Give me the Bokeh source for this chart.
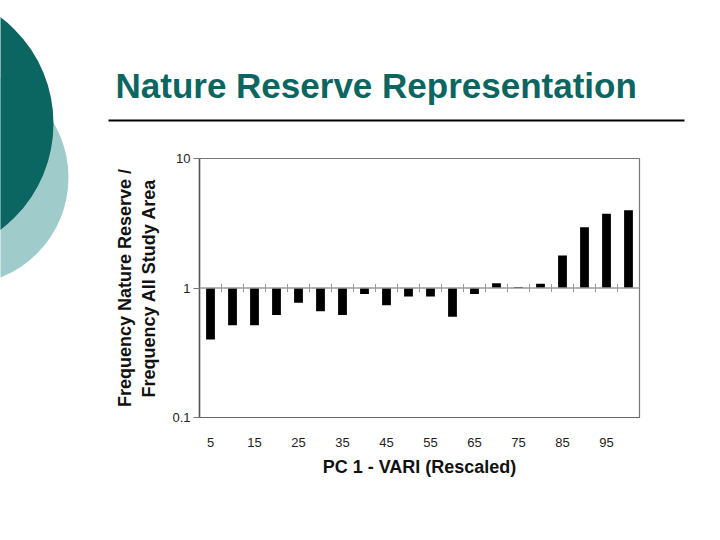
from bokeh.plotting import figure
from bokeh.layouts import row, column
from bokeh.models import Range1d, FixedTicker, Span
from bokeh.core.properties import value
from bokeh.embed import file_html
from bokeh.resources import INLINE

# ---- data ----
pc_values = [5, 10, 15, 20, 25, 30, 35, 40, 45, 50, 55, 60, 65, 70, 75, 80, 85, 90, 95, 100]
ratios = [0.40, 0.515, 0.515, 0.62, 0.77, 0.66, 0.62, 0.90, 0.735, 0.86, 0.86, 0.60,
          0.90, 1.09, 1.02, 1.08, 1.78, 2.94, 3.75, 3.98]
x_tick_values = [5, 15, 25, 35, 45, 55, 65, 75, 85, 95]
y_tick_values = [0.1, 1, 10]
y_tick_labels = {0.1: "0.1", 1: "1", 10: "10"}
title_text = "Nature Reserve Representation"
x_title = "PC 1 - VARI (Rescaled)"
y_title = "Frequency Nature Reserve /\nFrequency All Study Area"

TEAL_DARK = "#0b6662"
TEAL_LIGHT = "#9fcccb"
FONT = "Liberation Sans"

TOP_H = 135
LEFT_W = 100


def deco_figure(w, h, x0, y0):
    f = figure(width=w, height=h, x_range=Range1d(x0, x0 + w), y_range=Range1d(y0 + h, y0),
               output_backend="svg", toolbar_location=None, min_border=0)
    f.frame_align = False
    f.axis.visible = False
    f.grid.visible = False
    f.outline_line_color = None
    return f


# ---- left strip: the two circles ----
left = deco_figure(LEFT_W, 540, 0, 0)
left.circle(x=[-39.5], y=[177], radius=107.5, fill_color=TEAL_LIGHT, line_color=None)
left.circle(x=[-80], y=[123], radius=133, fill_color=TEAL_DARK, line_color=None)

# ---- top strip: title and rule ----
top = deco_figure(720 - LEFT_W, TOP_H, LEFT_W, 0)
top.text(x=[115], y=[85], text=[title_text], text_font=value(FONT), text_font_style="bold",
         text_font_size="35px", text_color=TEAL_DARK, text_baseline="alphabetic", text_align="left")
top.segment(x0=[108], y0=[120], x1=[684], y1=[120], line_color="black", line_width=2)

# ---- chart ----
p = figure(width=720 - LEFT_W, height=540 - TOP_H, x_range=Range1d(2.5, 102.5), y_range=Range1d(0.1, 10),
           y_axis_type="log", output_backend="svg", toolbar_location=None,
           min_border_left=99, min_border_right=81, min_border_top=23, min_border_bottom=123)
p.frame_align = False
p.grid.visible = False
p.outline_line_color = "#777777"
p.outline_line_width = 1.2

p.vbar(x=pc_values, width=2.0, bottom=1, top=ratios, fill_color="black", line_color=None)

p.add_layout(Span(location=1, dimension="width", line_color="#9a9a9a", line_width=1.5))
step = pc_values[1] - pc_values[0]
bounds = [v + step / 2 for v in pc_values[:-1]]
p.segment(x0=bounds, y0=[0.93] * len(bounds), x1=bounds, y1=[1.075] * len(bounds),
          line_color="#9a9a9a", line_width=1)

xa = p.xaxis[0]
xa.ticker = FixedTicker(ticks=x_tick_values)
xa.major_tick_line_color = None
xa.minor_tick_line_color = None
xa.axis_line_color = "#666666"
xa.major_label_text_font = FONT
xa.major_label_text_font_size = "13px"
xa.major_label_text_color = "#222222"
xa.major_label_standoff = 14
xa.axis_label = x_title
xa.axis_label_text_font = FONT
xa.axis_label_text_font_style = "bold"
xa.axis_label_text_font_size = "18px"
xa.axis_label_text_color = "#111111"
xa.axis_label_standoff = 7

ya = p.yaxis[0]
ya.ticker = FixedTicker(ticks=y_tick_values)
ya.major_label_overrides = y_tick_labels
ya.major_tick_out = 6
ya.major_tick_in = 0
ya.major_tick_line_color = "#777777"
ya.minor_tick_line_color = None
ya.axis_line_color = "#555555"
ya.axis_line_width = 1.5
ya.major_label_text_font = FONT
ya.major_label_text_font_size = "13px"
ya.major_label_text_color = "#222222"
ya.major_label_standoff = 3
ya.axis_label = y_title
ya.axis_label_text_font = FONT
ya.axis_label_text_font_style = "bold"
ya.axis_label_text_font_size = "18px"
ya.axis_label_text_color = "#111111"
ya.axis_label_standoff = 10

layout = row(left, column(top, p, spacing=0), spacing=0)
open("out.html", "w").write(file_html(layout, INLINE))
